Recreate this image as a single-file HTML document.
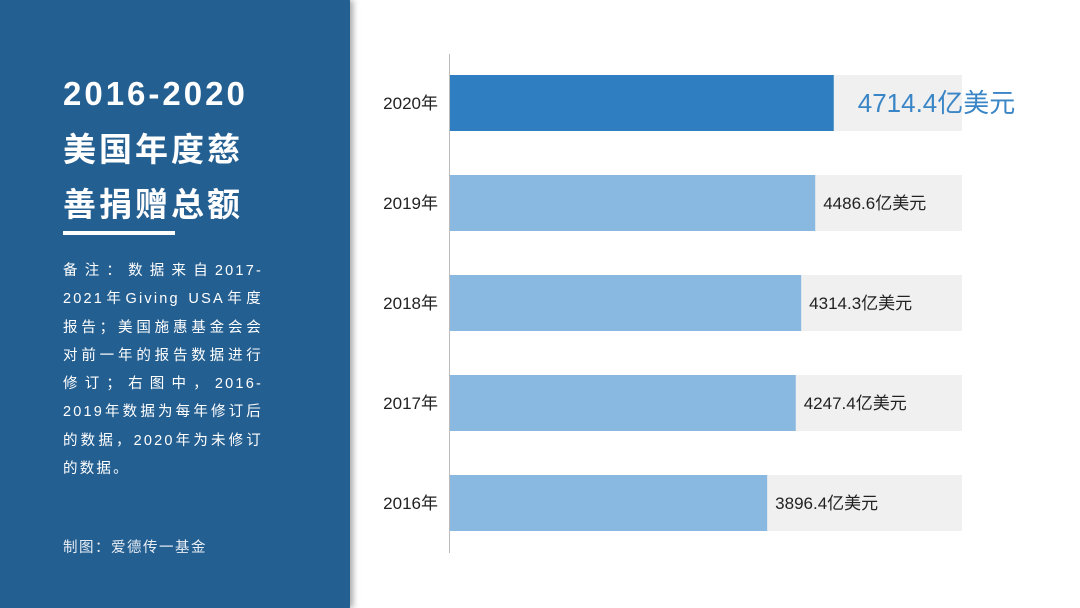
<!DOCTYPE html>
<html><head><meta charset="utf-8"><style>
body{margin:0;width:1080px;height:608px;overflow:hidden;background:#fff;font-family:"Liberation Sans","Noto Sans CJK SC",sans-serif;position:relative}
#panel{position:absolute;left:0;top:0;width:350px;height:608px;background:#245f91;box-shadow:3px 0 6px rgba(0,0,0,0.35)}
.t{position:absolute;left:63px;color:#fff;font-weight:bold;font-size:33px;line-height:40px;letter-spacing:3px;white-space:nowrap}
#ul{position:absolute;left:63px;top:231px;width:112px;height:4px;background:#fff}
#note{position:absolute;left:63px;top:257px;width:200px;color:#fff;font-size:14.5px;line-height:28.3px;letter-spacing:2.2px;text-align:justify}
#credit{position:absolute;left:63px;top:536px;color:#e8eef5;font-size:14.5px;letter-spacing:1.5px}
</style></head><body>
<div id="panel">
<div class="t" style="top:74px">2016-2020</div>
<div class="t" style="top:130px">美国年度慈</div>
<div class="t" style="top:185px">善捐赠总额</div>
<div id="ul"></div>
<div id="note">备注：数据来自2017-2021年Giving USA年度报告；美国施惠基金会会对前一年的报告数据进行修订；右图中，2016-2019年数据为每年修订后的数据，2020年为未修订的数据。</div>
<div id="credit">制图：爱德传一基金</div>
</div>
<svg id="chart" width="1080" height="608" style="position:absolute;left:0;top:0"></svg>
<script>
const categories=["2020年","2019年","2018年","2017年","2016年"];
const values=[4714.4,4486.6,4314.3,4247.4,3896.4];
const valueLabels=["4714.4亿美元","4486.6亿美元","4314.3亿美元","4247.4亿美元","3896.4亿美元"];
const domainMax=6290;
const NS="http://www.w3.org/2000/svg";
const svg=document.getElementById('chart');
const x0=450,w=512,y0=75,step=100,bh=56;
const xs=v=>x0+v/domainMax*w;
const ys=i=>y0+i*step;
function mk(t,a){const e=document.createElementNS(NS,t);for(const k in a)e.setAttribute(k,a[k]);svg.appendChild(e);return e;}
categories.forEach((c,i)=>{
  const bg=mk('rect',{x:x0,y:ys(i),width:w,height:bh,fill:'#f0f0f0'});
  
  
  const b=mk('rect',{x:x0,y:ys(i),width:xs(values[i])-x0,height:bh,fill:i===0?'#2f7ec1':'#89b8e1'});
  
  
  const l=mk('text',{x:438,y:ys(i)+bh/2+6,'text-anchor':'end','font-size':17,fill:'#222'});
  l.textContent=c;
  
  
  const big=i===0;
  const v=mk('text',{x:xs(values[i])+(big?24:8),y:ys(i)+bh/2+(big?9:6),'font-size':big?26:17,fill:big?'#3a85c6':'#222'});
  v.textContent=valueLabels[i];
  
  
});
const ax=mk('line',{x1:449.5,y1:54,x2:449.5,y2:553,stroke:'#bbb','stroke-width':1});


</script>
</body></html>
